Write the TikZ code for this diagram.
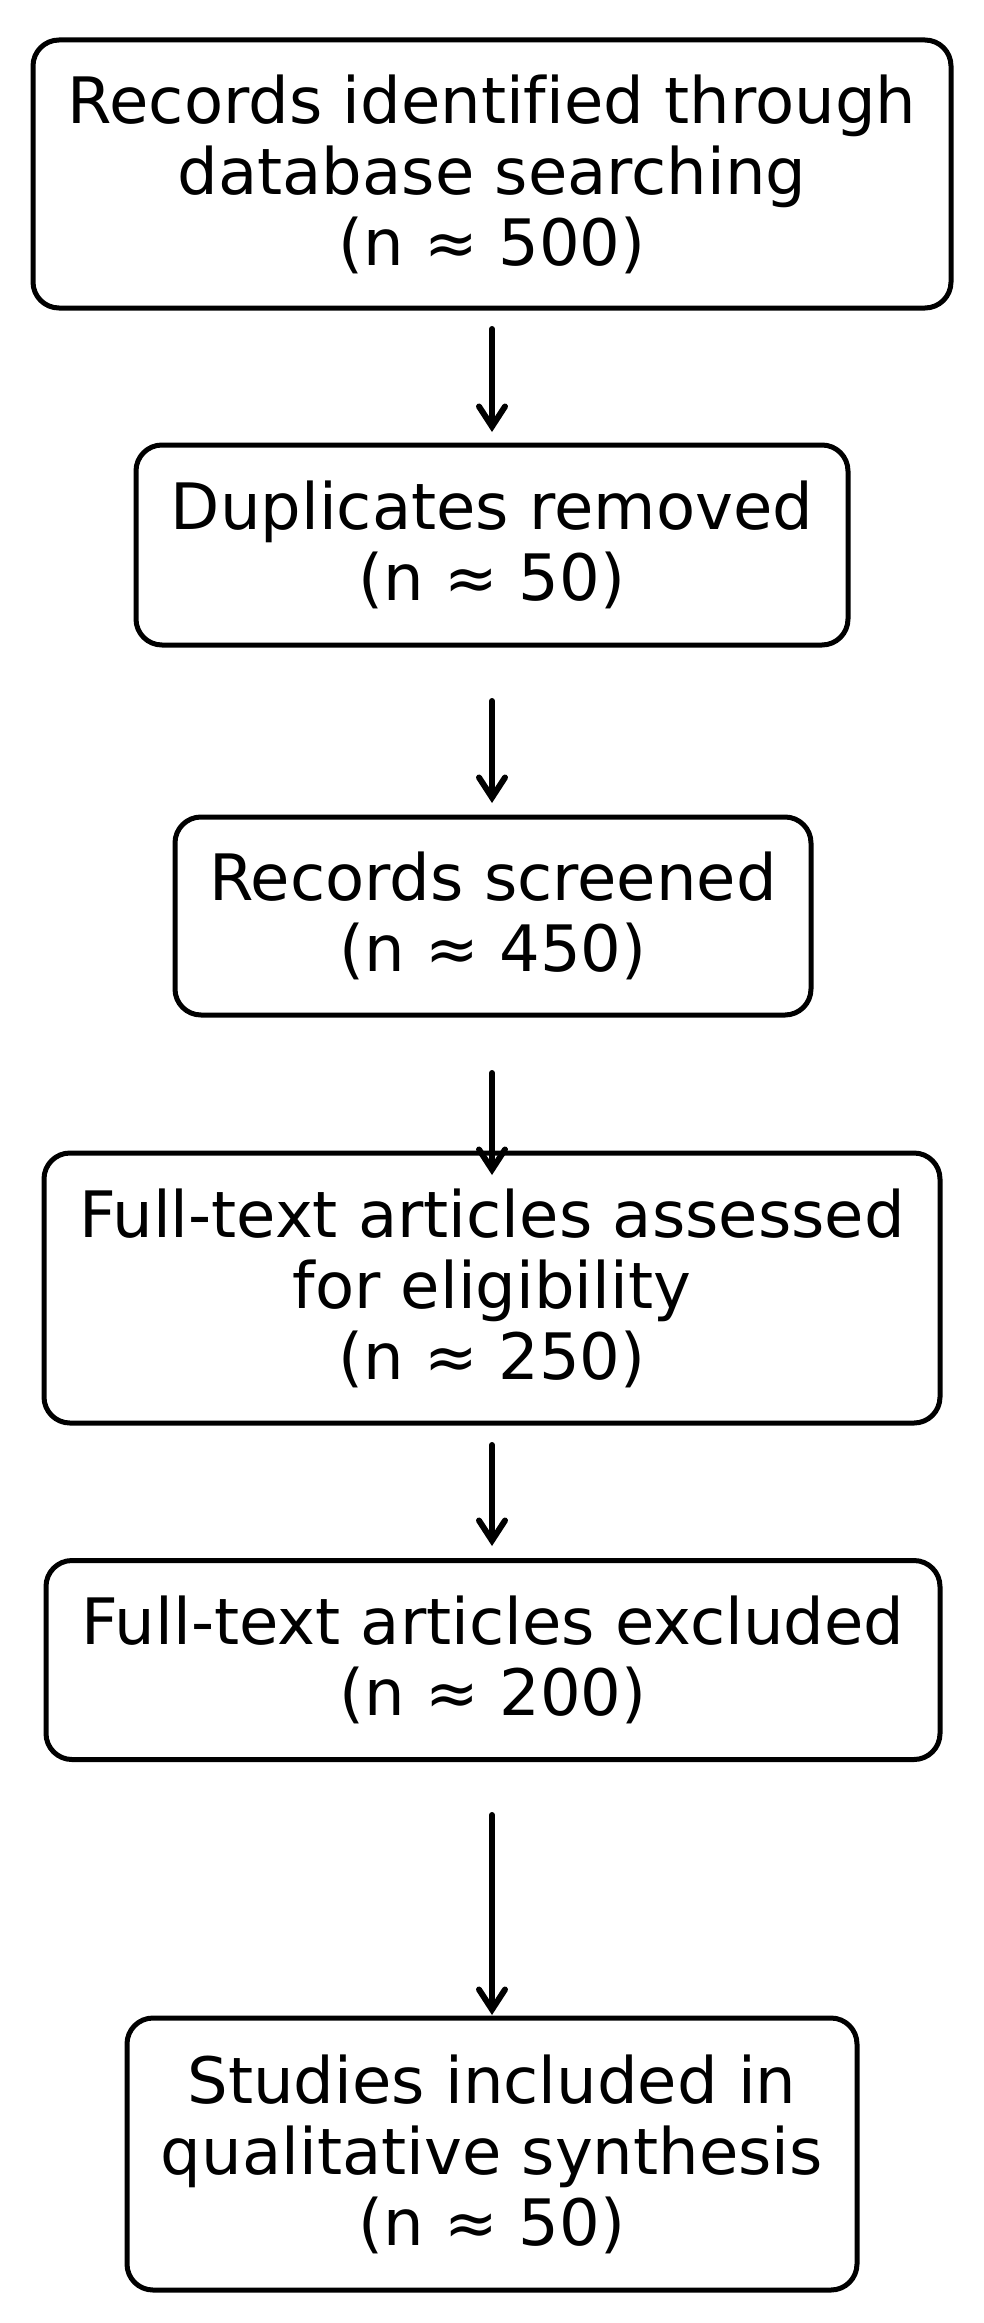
\documentclass[tikz,border=0pt]{standalone}
\usepackage{fontspec}
\setmainfont[Ligatures=NoCommon]{DejaVu Sans}
\usetikzlibrary{arrows.meta}
\begin{document}
\begin{tikzpicture}[x=1pt,y=-1pt,
  box/.style={draw=black, line width=5pt, rounded corners=26pt, align=center,
    inner sep=0pt, font=\fontsize{64}{71}\selectfont},
  arr/.style={line width=6pt, line cap=round,
    -{Straight Barb[length=20pt,width=26pt,line width=6pt,line cap=round]}}]
\useasboundingbox (0,0) rectangle (984,2323);
\node[box, minimum width=918pt, minimum height=268pt] (b1) at (492,174)
  {Records identified through\\database searching\\(n ≈ 500)};
\node[box, minimum width=712pt, minimum height=200pt] (b2) at (492,545)
  {Duplicates removed\\(n ≈ 50)};
\node[box, minimum width=636pt, minimum height=198pt] (b3) at (493,916)
  {Records screened\\(n ≈ 450)};
\node[box, minimum width=896pt, minimum height=270pt] (b4) at (492,1288)
  {Full-text articles assessed\\for eligibility\\(n ≈ 250)};
\node[box, minimum width=894pt, minimum height=199pt] (b5) at (493,1660)
  {Full-text articles excluded\\(n ≈ 200)};
\node[box, minimum width=730pt, minimum height=272pt] (b6) at (492,2154)
  {Studies included in\\qualitative synthesis\\(n ≈ 50)};
\coordinate (a1s) at (492,329); \coordinate (a1e) at (492,432);
\coordinate (a2s) at (492,701); \coordinate (a2e) at (492,803);
\coordinate (a3s) at (492,1073); \coordinate (a3e) at (492,1175);
\coordinate (a4s) at (492,1445); \coordinate (a4e) at (492,1546);
\coordinate (a5s) at (492,1815); \coordinate (a5e) at (492,2015);
\draw[arr] (a1s) -- (a1e);
\draw[arr] (a2s) -- (a2e);
\draw[arr] (a3s) -- (a3e);
\draw[arr] (a4s) -- (a4e);
\draw[arr] (a5s) -- (a5e);
\end{tikzpicture}
\end{document}
